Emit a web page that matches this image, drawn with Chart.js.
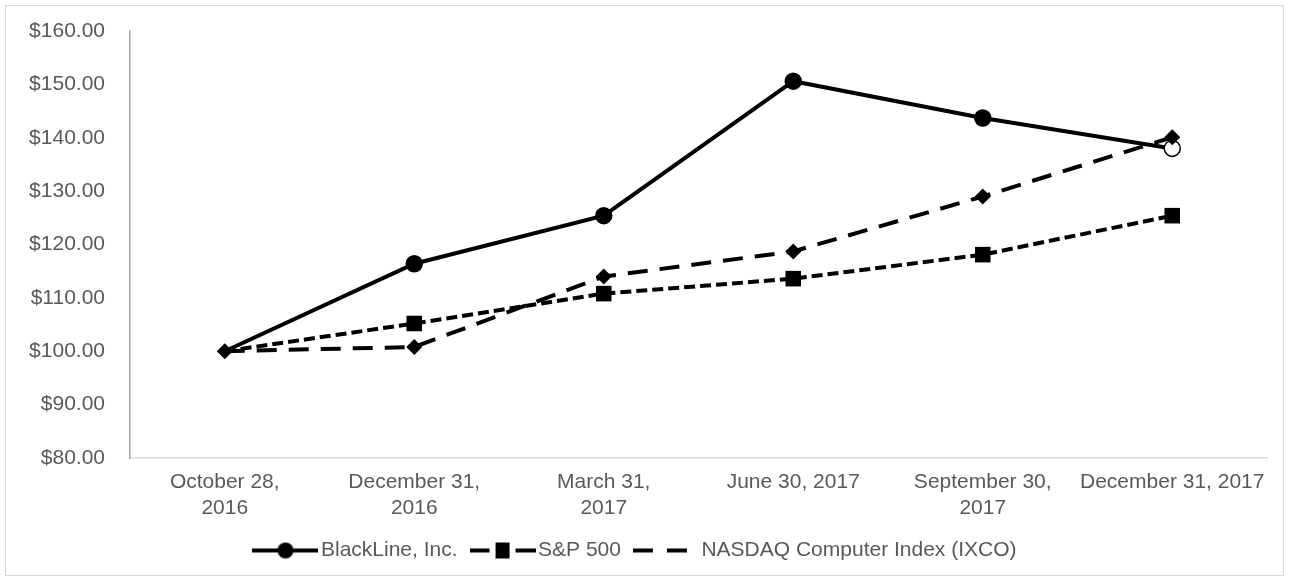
<!DOCTYPE html>
<html>
<head>
<meta charset="utf-8">
<script src="https://cdn.jsdelivr.net/npm/chart.js@4/dist/chart.umd.min.js"></script>
<style>
  body { margin: 0; background: #fff; }
  #wrap { position: relative; width: 1291px; height: 583px; }
  #marco { position: absolute; left: 5px; top: 5px; width: 1277px; height: 569px; border: 1px solid #d9d9d9; pointer-events: none; }
</style>
</head>
<body>
<div id="wrap">
  <canvas id="grafico" width="1291" height="583"></canvas>
  <div id="marco"></div>
</div>
<script>
// datos
const fechas = [
  ["October 28,", "2016"],
  ["December 31,", "2016"],
  ["March 31,", "2017"],
  "June 30, 2017",
  ["September 30,", "2017"],
  "December 31, 2017"
];
const blackline = [100.0, 116.4, 125.4, 150.6, 143.7, 138.0];
const sp500 = [100.0, 105.2, 110.8, 113.6, 118.1, 125.4];
const nasdaq = [100.0, 100.8, 114.0, 118.7, 129.0, 140.1];
const ejeY = { min: 80, max: 160, paso: 10 };

const gris = "#595959";
const fuente = "'Liberation Sans', Arial, sans-serif";

// simbolos de la leyenda (linea + marcador)
function simbolo(dash, marcador) {
  const c = document.createElement("canvas");
  c.width = 66;
  c.height = 22;
  const ctx = c.getContext("2d");
  ctx.strokeStyle = "#000";
  ctx.lineWidth = 4;
  ctx.setLineDash(dash);
  ctx.beginPath();
  ctx.moveTo(0, 11);
  ctx.lineTo(66, 11);
  ctx.stroke();
  ctx.fillStyle = "#000";
  if (marcador === "circulo") {
    ctx.beginPath();
    ctx.arc(33, 11, 8, 0, Math.PI * 2);
    ctx.fill();
  } else if (marcador === "cuadrado") {
    ctx.fillRect(26, 3, 14, 16);
  }
  return c;
}

const simBlack = simbolo([], "circulo");
const simSP = simbolo([20, 26], "cuadrado");
const simNas = simbolo([20, 14], null);

const ctx = document.getElementById("grafico").getContext("2d");
const grafico = new Chart(ctx, {
  type: "line",
  data: {
    labels: fechas,
    datasets: [
      {
        label: "BlackLine, Inc.",
        data: blackline,
        borderColor: "#000",
        backgroundColor: "#000",
        borderWidth: 4,
        pointStyle: "circle",
        pointRadius: [0, 8, 8, 8, 8, 8],
        pointBackgroundColor: ["#000", "#000", "#000", "#000", "#000", "#fff"],
        pointBorderColor: "#000",
        pointBorderWidth: 1.5,
        tension: 0,
        order: 2
      },
      {
        label: "S&P 500",
        data: sp500,
        borderColor: "#000",
        backgroundColor: "#000",
        borderWidth: 4,
        borderDash: [11, 5],
        pointStyle: "rect",
        pointRadius: [0, 11, 11, 11, 11, 11],
        pointBorderWidth: 0,
        tension: 0,
        order: 1
      },
      {
        label: "NASDAQ Computer Index (IXCO)",
        data: nasdaq,
        borderColor: "#000",
        backgroundColor: "#000",
        borderWidth: 4,
        borderDash: [20, 12],
        pointStyle: "rectRot",
        pointRadius: 8,
        pointBorderWidth: 0,
        tension: 0,
        order: 0
      }
    ]
  },
  options: {
    responsive: false,
    animation: false,
    layout: { padding: { left: 10, right: 24, top: 31, bottom: 12 } },
    plugins: {
      tooltip: { enabled: false },
      legend: {
        position: "bottom",
        labels: {
          usePointStyle: true,
          pointStyleWidth: 50,
          padding: 20,
          color: gris,
          font: { family: fuente, size: 21 },
          sort: (a, b) => a.datasetIndex - b.datasetIndex,
          generateLabels: function(chart) {
            const sims = [simBlack, simSP, simNas];
            return chart.data.datasets.map((d, i) => ({
              text: d.label,
              datasetIndex: i,
              pointStyle: sims[i],
              fontColor: gris,
              hidden: false,
              lineWidth: 0,
              strokeStyle: "rgba(0,0,0,0)",
              fillStyle: "rgba(0,0,0,0)"
            }));
          }
        }
      }
    },
    scales: {
      x: {
        offset: true,
        grid: { display: false, drawTicks: false, offset: true },
        border: { display: true, color: "#d9d9d9", width: 1.5 },
        ticks: {
          color: gris,
          font: { family: fuente, size: 21, lineHeight: 1.2 },
          maxRotation: 0,
          autoSkip: false,
          padding: 12
        },
        afterFit: function(scale) { scale.height = 62; }
      },
      y: {
        min: ejeY.min,
        max: ejeY.max,
        grid: { display: false, drawTicks: false },
        border: { display: true, color: "#a6a6a6", width: 1.5 },
        ticks: {
          stepSize: ejeY.paso,
          color: gris,
          padding: 25,
          font: { family: fuente, size: 21, lineHeight: 0.5 },
          callback: (v) => "$" + v.toFixed(2)
        },
        afterFit: function(scale) { scale.width = 120; }
      }
    }
  }
});
</script>
</body>
</html>
